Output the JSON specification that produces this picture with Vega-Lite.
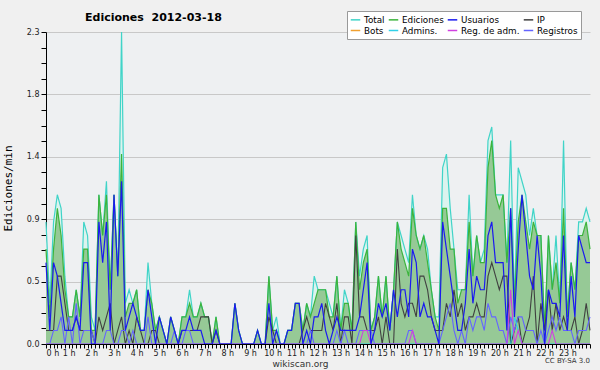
{
"$schema": "https://vega.github.io/schema/vega-lite/v6.json",
"width": 544, "height": 312,
"autosize": "none",
"padding": {"left": 46, "top": 32, "right": 10, "bottom": 26},
"background": "#f0f0f0",
"config": {"view": {"fill": "#eef0f2", "stroke": null}, "font": "DejaVu Sans"},
"title": {"text": "Ediciones\u00a0 2012-03-18", "anchor": "start", "frame": "group", "dx": 39, "dy": 22, "offset": 10, "fontSize": 11, "fontWeight": "bold", "font": "DejaVu Sans", "color": "#000000"},
"data": {"values": [
{"t":0,"T":0.9,"E":0.7,"U":0.6,"IP":0.1,"R":0,"A":0,"M":0},
{"t":10,"T":0.3,"E":0.2,"U":0.1,"IP":0.1,"R":0,"A":0,"M":0},
{"t":20,"T":0.9,"E":0.7,"U":0.6,"IP":0.1,"R":0.1,"A":0,"M":0},
{"t":30,"T":1.1,"E":1.0,"U":0.5,"IP":0.5,"R":0.1,"A":0,"M":0},
{"t":40,"T":1.0,"E":0.8,"U":0.3,"IP":0.5,"R":0.2,"A":0,"M":0},
{"t":50,"T":0.5,"E":0.4,"U":0.1,"IP":0.3,"R":0,"A":0,"M":0},
{"t":60,"T":0.2,"E":0.2,"U":0.1,"IP":0.1,"R":0.2,"A":0,"M":0},
{"t":70,"T":0.2,"E":0.2,"U":0.1,"IP":0.1,"R":0,"A":0,"M":0},
{"t":80,"T":0.4,"E":0.4,"U":0.2,"IP":0.2,"R":0.3,"A":0,"M":0},
{"t":90,"T":0.2,"E":0.2,"U":0.1,"IP":0.1,"R":0,"A":0,"M":0},
{"t":100,"T":0.9,"E":0.7,"U":0.6,"IP":0.1,"R":0.1,"A":0,"M":0},
{"t":110,"T":0.8,"E":0.7,"U":0.6,"IP":0.1,"R":0.1,"A":0,"M":0},
{"t":120,"T":0.2,"E":0.1,"U":0,"IP":0.1,"R":0.1,"A":0,"M":0},
{"t":130,"T":0.1,"E":0.1,"U":0,"IP":0,"R":0,"A":0,"M":0},
{"t":140,"T":1.1,"E":1.1,"U":0.9,"IP":0.2,"R":0,"A":0,"M":0},
{"t":150,"T":0.8,"E":0.8,"U":0.6,"IP":0.1,"R":0,"A":0,"M":0},
{"t":160,"T":1.2,"E":1.1,"U":0.9,"IP":0.2,"R":0.1,"A":0,"M":0},
{"t":170,"T":0.4,"E":0.4,"U":0.1,"IP":0.3,"R":0.1,"A":0,"M":0},
{"t":180,"T":1.1,"E":1.1,"U":1.1,"IP":0,"R":0,"A":0,"M":0},
{"t":190,"T":0.5,"E":0.5,"U":0.5,"IP":0.1,"R":0,"A":0,"M":0},
{"t":200,"T":2.3,"E":1.4,"U":1.2,"IP":0.2,"R":0.1,"A":0,"M":0},
{"t":210,"T":0.3,"E":0.2,"U":0.1,"IP":0,"R":0.1,"A":0,"M":0},
{"t":220,"T":0.4,"E":0.3,"U":0.2,"IP":0.1,"R":0,"A":0,"M":0},
{"t":230,"T":0.3,"E":0.3,"U":0.3,"IP":0,"R":0.1,"A":0,"M":0},
{"t":240,"T":0.4,"E":0.4,"U":0.2,"IP":0.2,"R":0,"A":0,"M":0},
{"t":250,"T":0.1,"E":0.1,"U":0.1,"IP":0.1,"R":0,"A":0,"M":0},
{"t":260,"T":0.1,"E":0.1,"U":0.1,"IP":0,"R":0,"A":0,"M":0},
{"t":270,"T":0.6,"E":0.4,"U":0.4,"IP":0,"R":0.2,"A":0,"M":0},
{"t":280,"T":0.3,"E":0.3,"U":0.2,"IP":0.1,"R":0,"A":0,"M":0},
{"t":290,"T":0.1,"E":0.1,"U":0,"IP":0.1,"R":0,"A":0,"M":0},
{"t":300,"T":0.2,"E":0.2,"U":0.2,"IP":0,"R":0,"A":0,"M":0},
{"t":310,"T":0.1,"E":0.1,"U":0.1,"IP":0,"R":0,"A":0,"M":0},
{"t":320,"T":0,"E":0,"U":0,"IP":0,"R":0,"A":0,"M":0},
{"t":330,"T":0.2,"E":0.2,"U":0.2,"IP":0,"R":0,"A":0,"M":0},
{"t":340,"T":0.1,"E":0.1,"U":0.1,"IP":0,"R":0.1,"A":0,"M":0},
{"t":350,"T":0,"E":0,"U":0,"IP":0,"R":0,"A":0,"M":0},
{"t":360,"T":0.2,"E":0.2,"U":0.1,"IP":0.1,"R":0,"A":0,"M":0},
{"t":370,"T":0.2,"E":0.2,"U":0.1,"IP":0.1,"R":0.1,"A":0,"M":0},
{"t":380,"T":0.4,"E":0.3,"U":0.2,"IP":0.1,"R":0.1,"A":0,"M":0},
{"t":390,"T":0.2,"E":0.2,"U":0.1,"IP":0.1,"R":0,"A":0,"M":0},
{"t":400,"T":0.2,"E":0.2,"U":0.1,"IP":0.1,"R":0,"A":0,"M":0},
{"t":410,"T":0.3,"E":0.3,"U":0.1,"IP":0.2,"R":0,"A":0,"M":0},
{"t":420,"T":0.2,"E":0.2,"U":0,"IP":0.2,"R":0,"A":0,"M":0},
{"t":430,"T":0.2,"E":0.2,"U":0,"IP":0.2,"R":0,"A":0,"M":0},
{"t":440,"T":0,"E":0,"U":0,"IP":0,"R":0,"A":0,"M":0},
{"t":450,"T":0.2,"E":0.2,"U":0.1,"IP":0.1,"R":0,"A":0,"M":0},
{"t":460,"T":0,"E":0,"U":0,"IP":0,"R":0,"A":0,"M":0},
{"t":470,"T":0,"E":0,"U":0,"IP":0,"R":0,"A":0,"M":0},
{"t":480,"T":0,"E":0,"U":0,"IP":0,"R":0,"A":0,"M":0},
{"t":490,"T":0,"E":0,"U":0,"IP":0,"R":0,"A":0,"M":0},
{"t":500,"T":0.3,"E":0.3,"U":0.3,"IP":0,"R":0,"A":0,"M":0},
{"t":510,"T":0.1,"E":0.1,"U":0.1,"IP":0,"R":0,"A":0,"M":0},
{"t":520,"T":0,"E":0,"U":0,"IP":0,"R":0,"A":0,"M":0},
{"t":530,"T":0,"E":0,"U":0,"IP":0,"R":0,"A":0,"M":0},
{"t":540,"T":0,"E":0,"U":0,"IP":0,"R":0,"A":0,"M":0},
{"t":550,"T":0,"E":0,"U":0,"IP":0,"R":0,"A":0,"M":0},
{"t":560,"T":0.1,"E":0.1,"U":0.1,"IP":0,"R":0,"A":0,"M":0},
{"t":570,"T":0,"E":0,"U":0,"IP":0,"R":0,"A":0,"M":0},
{"t":580,"T":0,"E":0,"U":0,"IP":0,"R":0,"A":0,"M":0},
{"t":590,"T":0.5,"E":0.5,"U":0.3,"IP":0.2,"R":0,"A":0,"M":0},
{"t":600,"T":0.1,"E":0.1,"U":0,"IP":0.1,"R":0,"A":0,"M":0},
{"t":610,"T":0.2,"E":0.1,"U":0.1,"IP":0,"R":0,"A":0,"M":0},
{"t":620,"T":0,"E":0,"U":0,"IP":0,"R":0,"A":0,"M":0},
{"t":630,"T":0,"E":0,"U":0,"IP":0,"R":0,"A":0,"M":0},
{"t":640,"T":0.1,"E":0.1,"U":0.1,"IP":0,"R":0,"A":0,"M":0},
{"t":650,"T":0.1,"E":0.1,"U":0.1,"IP":0,"R":0,"A":0,"M":0},
{"t":660,"T":0.3,"E":0.3,"U":0.3,"IP":0,"R":0,"A":0,"M":0},
{"t":670,"T":0.3,"E":0.3,"U":0.3,"IP":0,"R":0,"A":0,"M":0},
{"t":680,"T":0.1,"E":0.1,"U":0,"IP":0.1,"R":0,"A":0,"M":0},
{"t":690,"T":0.3,"E":0.3,"U":0.1,"IP":0.2,"R":0,"A":0,"M":0},
{"t":700,"T":0.2,"E":0.2,"U":0,"IP":0.1,"R":0.1,"A":0,"M":0},
{"t":710,"T":0.5,"E":0.3,"U":0.2,"IP":0.1,"R":0,"A":0,"M":0},
{"t":720,"T":0.4,"E":0.4,"U":0.2,"IP":0.1,"R":0,"A":0,"M":0},
{"t":730,"T":0.4,"E":0.4,"U":0.3,"IP":0.1,"R":0,"A":0,"M":0},
{"t":740,"T":0.4,"E":0.4,"U":0.1,"IP":0.3,"R":0,"A":0,"M":0},
{"t":750,"T":0.3,"E":0.2,"U":0,"IP":0.2,"R":0,"A":0,"M":0},
{"t":760,"T":0.2,"E":0.2,"U":0.1,"IP":0.1,"R":0,"A":0,"M":0},
{"t":770,"T":0.5,"E":0.5,"U":0.2,"IP":0.3,"R":0.1,"A":0,"M":0},
{"t":780,"T":0.1,"E":0.1,"U":0.1,"IP":0,"R":0,"A":0,"M":0},
{"t":790,"T":0.4,"E":0.3,"U":0.1,"IP":0.2,"R":0.1,"A":0,"M":0},
{"t":800,"T":0.3,"E":0.3,"U":0.1,"IP":0.2,"R":0,"A":0,"M":0},
{"t":810,"T":0.1,"E":0.1,"U":0.1,"IP":0,"R":0,"A":0,"M":0},
{"t":820,"T":0.9,"E":0.9,"U":0.1,"IP":0.8,"R":0,"A":0,"M":0},
{"t":830,"T":0.5,"E":0.4,"U":0.2,"IP":0.2,"R":0.1,"A":0,"M":0},
{"t":840,"T":0.7,"E":0.6,"U":0.4,"IP":0.2,"R":0.1,"A":0,"M":0.1},
{"t":850,"T":0.8,"E":0.7,"U":0.6,"IP":0.1,"R":0.1,"A":0,"M":0.1},
{"t":860,"T":0.1,"E":0.1,"U":0,"IP":0.1,"R":0.1,"A":0,"M":0},
{"t":870,"T":0.2,"E":0.2,"U":0.1,"IP":0.1,"R":0,"A":0,"M":0},
{"t":880,"T":0.5,"E":0.5,"U":0.3,"IP":0.2,"R":0,"A":0,"M":0},
{"t":890,"T":0.2,"E":0.2,"U":0.2,"IP":0,"R":0,"A":0,"M":0},
{"t":900,"T":0.5,"E":0.5,"U":0.3,"IP":0.2,"R":0,"A":0,"M":0},
{"t":910,"T":0.1,"E":0.1,"U":0.1,"IP":0,"R":0,"A":0,"M":0},
{"t":920,"T":0.4,"E":0.4,"U":0.4,"IP":0,"R":0,"A":0,"M":0},
{"t":930,"T":0.9,"E":0.9,"U":0.2,"IP":0.7,"R":0,"A":0,"M":0},
{"t":940,"T":0.8,"E":0.7,"U":0.4,"IP":0.3,"R":0,"A":0,"M":0},
{"t":950,"T":0.7,"E":0.6,"U":0.4,"IP":0.2,"R":0,"A":0,"M":0},
{"t":960,"T":0.6,"E":0.5,"U":0.2,"IP":0.3,"R":0.1,"A":0,"M":0},
{"t":970,"T":1.1,"E":1.0,"U":0.7,"IP":0.3,"R":0.1,"A":0,"M":0.1},
{"t":980,"T":0.8,"E":0.8,"U":0.6,"IP":0.2,"R":0,"A":0,"M":0},
{"t":990,"T":0.7,"E":0.7,"U":0.2,"IP":0.5,"R":0,"A":0,"M":0},
{"t":1000,"T":0.8,"E":0.8,"U":0.3,"IP":0.5,"R":0,"A":0,"M":0},
{"t":1010,"T":0.7,"E":0.6,"U":0.2,"IP":0.4,"R":0,"A":0,"M":0},
{"t":1020,"T":0.4,"E":0.4,"U":0.2,"IP":0.2,"R":0,"A":0,"M":0},
{"t":1030,"T":0.2,"E":0.2,"U":0.1,"IP":0.1,"R":0,"A":0,"M":0},
{"t":1040,"T":0.2,"E":0.1,"U":0,"IP":0.1,"R":0,"A":0,"M":0},
{"t":1050,"T":1.3,"E":1.0,"U":0.9,"IP":0.1,"R":0.1,"A":0,"M":0},
{"t":1060,"T":1.4,"E":1.0,"U":0.7,"IP":0.3,"R":0.2,"A":0,"M":0},
{"t":1070,"T":1.0,"E":0.7,"U":0.5,"IP":0.2,"R":0.3,"A":0,"M":0},
{"t":1080,"T":0.7,"E":0.7,"U":0.3,"IP":0.4,"R":0.1,"A":0,"M":0},
{"t":1090,"T":0.4,"E":0.3,"U":0.1,"IP":0.2,"R":0,"A":0,"M":0},
{"t":1100,"T":0.4,"E":0.4,"U":0.1,"IP":0.3,"R":0.1,"A":0,"M":0},
{"t":1110,"T":0.4,"E":0.4,"U":0.3,"IP":0.1,"R":0,"A":0,"M":0},
{"t":1120,"T":1.1,"E":0.9,"U":0.7,"IP":0.2,"R":0.2,"A":0,"M":0},
{"t":1130,"T":0.5,"E":0.5,"U":0.3,"IP":0.2,"R":0.1,"A":0,"M":0},
{"t":1140,"T":0.8,"E":0.8,"U":0.5,"IP":0.3,"R":0.2,"A":0,"M":0},
{"t":1150,"T":0.6,"E":0.6,"U":0.4,"IP":0.2,"R":0.2,"A":0,"M":0},
{"t":1160,"T":0.7,"E":0.6,"U":0.4,"IP":0.2,"R":0.1,"A":0,"M":0},
{"t":1170,"T":1.5,"E":1.3,"U":0.8,"IP":0.5,"R":0.3,"A":0,"M":0},
{"t":1180,"T":1.6,"E":1.5,"U":0.9,"IP":0.6,"R":0.2,"A":0,"M":0},
{"t":1190,"T":1.1,"E":1.1,"U":0.6,"IP":0.5,"R":0.2,"A":0,"M":0},
{"t":1200,"T":1.1,"E":1.0,"U":0.6,"IP":0.4,"R":0.1,"A":0,"M":0},
{"t":1210,"T":1.1,"E":1.1,"U":0.6,"IP":0.5,"R":0.1,"A":0,"M":0},
{"t":1220,"T":0.6,"E":0.6,"U":0.1,"IP":0.5,"R":0,"A":0,"M":0},
{"t":1230,"T":1.5,"E":1.0,"U":1.0,"IP":0,"R":0.2,"A":0,"M":0.4},
{"t":1240,"T":0.3,"E":0.3,"U":0.2,"IP":0.1,"R":0.1,"A":0.2,"M":0},
{"t":1250,"T":1.3,"E":0.9,"U":0.7,"IP":0.2,"R":0.2,"A":0.1,"M":0.1},
{"t":1260,"T":1.2,"E":1.1,"U":1.1,"IP":0,"R":0.2,"A":0,"M":0},
{"t":1270,"T":1.1,"E":0.9,"U":0.8,"IP":0.1,"R":0.1,"A":0,"M":0},
{"t":1280,"T":0.8,"E":0.7,"U":0.5,"IP":0.2,"R":0.1,"A":0,"M":0},
{"t":1290,"T":1.0,"E":0.9,"U":0.4,"IP":0.5,"R":0.1,"A":0,"M":0},
{"t":1300,"T":0.8,"E":0.8,"U":0.8,"IP":0,"R":0,"A":0,"M":0},
{"t":1310,"T":0.8,"E":0.8,"U":0.5,"IP":0.3,"R":0.1,"A":0,"M":0},
{"t":1320,"T":0.1,"E":0.1,"U":0,"IP":0.1,"R":0,"A":0,"M":0},
{"t":1330,"T":0.8,"E":0.8,"U":0.4,"IP":0.4,"R":0.1,"A":0,"M":0},
{"t":1340,"T":0.4,"E":0.4,"U":0.3,"IP":0.1,"R":0.2,"A":0,"M":0.1},
{"t":1350,"T":0.8,"E":0.6,"U":0.3,"IP":0.3,"R":0.1,"A":0,"M":0},
{"t":1360,"T":0.3,"E":0.3,"U":0.2,"IP":0.1,"R":0.2,"A":0,"M":0},
{"t":1370,"T":1.5,"E":1.0,"U":0.8,"IP":0.2,"R":0.1,"A":0,"M":0},
{"t":1380,"T":0.2,"E":0.2,"U":0.1,"IP":0.1,"R":0.1,"A":0,"M":0},
{"t":1390,"T":0.6,"E":0.6,"U":0.5,"IP":0.1,"R":0.1,"A":0,"M":0},
{"t":1400,"T":0.4,"E":0.4,"U":0.2,"IP":0.2,"R":0,"A":0,"M":0},
{"t":1410,"T":0.9,"E":0.8,"U":0.8,"IP":0,"R":0.1,"A":0,"M":0},
{"t":1420,"T":0.9,"E":0.8,"U":0.7,"IP":0.1,"R":0.1,"A":0,"M":0},
{"t":1430,"T":1.0,"E":0.9,"U":0.6,"IP":0.3,"R":0.1,"A":0,"M":0},
{"t":1440,"T":0.9,"E":0.7,"U":0.6,"IP":0.1,"R":0.2,"A":0,"M":0}
]},
"transform": [{"fold": ["T","E","U","IP","R","A","M"], "as": ["k","v"]}],
"encoding": {
  "x": {"field": "t", "type": "quantitative", "scale": {"domain": [0, 1440], "nice": false, "zero": false},
    "axis": {"values": [0,10,20,30,40,50,60,70,80,90,100,110,120,130,140,150,160,170,180,190,200,210,220,230,240,250,260,270,280,290,300,310,320,330,340,350,360,370,380,390,400,410,420,430,440,450,460,470,480,490,500,510,520,530,540,550,560,570,580,590,600,610,620,630,640,650,660,670,680,690,700,710,720,730,740,750,760,770,780,790,800,810,820,830,840,850,860,870,880,890,900,910,920,930,940,950,960,970,980,990,1000,1010,1020,1030,1040,1050,1060,1070,1080,1090,1100,1110,1120,1130,1140,1150,1160,1170,1180,1190,1200,1210,1220,1230,1240,1250,1260,1270,1280,1290,1300,1310,1320,1330,1340,1350,1360,1370,1380,1390,1400,1410,1420,1430,1440],
      "labelExpr": "datum.value % 60 == 0 && datum.value < 1440 ? (datum.value / 60) + ' h' : ''",
      "labelOverlap": false, "labelBound": false, "labelFontSize": 8, "labelPadding": 1, "labelColor": "#222222",
      "tickSize": 4, "tickColor": "#000000", "domainColor": "#000000", "grid": false,
      "title": "wikiscan.org", "titleFontSize": 9, "titleFontWeight": "normal", "titleColor": "#333333",
      "titleX": 254, "titleY": 19, "titleBaseline": "middle", "zindex": 1}},
  "y": {"field": "v", "type": "quantitative", "scale": {"domain": [0, 2.3], "nice": false},
    "axis": {"values": [0,0.115,0.23,0.345,0.46,0.575,0.69,0.805,0.92,1.035,1.15,1.265,1.38,1.495,1.61,1.725,1.84,1.955,2.07,2.185,2.3],
      "labelExpr": "abs(datum.value / 0.46 - round(datum.value / 0.46)) < 0.01 ? format(datum.value, '.1f') : ''",
      "labelOverlap": false, "labelBound": false, "labelFontSize": 8, "labelPadding": 2, "labelColor": "#222222",
      "tickSize": 5, "tickColor": "#000000", "domainColor": "#000000",
      "grid": true, "gridColor": "#c8c8c8",
      "gridOpacity": {"condition": {"test": "abs(datum.value / 0.46 - round(datum.value / 0.46)) < 0.01 && datum.value > 0", "value": 1}, "value": 0},
      "title": "Ediciones/min", "titleFont": "DejaVu Sans Mono", "titleFontSize": 11, "titleFontWeight": "normal", "titleColor": "#000000",
      "titleX": -38, "titleY": 156, "titleAngle": -90, "titleAlign": "center", "titleBaseline": "middle", "zindex": 0}}
},
"layer": [
  {"transform": [{"filter": "datum.k == 'T'"}], "mark": {"type": "area", "color": "#dcf3ee"}},
  {"transform": [{"filter": "datum.k == 'E'"}], "mark": {"type": "area", "color": "#96c996"}},
  {"transform": [{"filter": "datum.k == 'T'"}], "mark": {"type": "line", "strokeWidth": 1.2},
   "encoding": {"color": {"datum": "Total", "type": "nominal",
     "scale": {"domain": ["Total","Ediciones","Usuarios","IP","Bots","Admins.","Reg. de adm.","Registros"],
               "range": ["#40d4c8","#3cb43c","#1a1af0","#404040","#f0a030","#30d0e8","#d040e0","#6464ff"]},
     "legend": {"orient": "none", "legendX": 301, "legendY": -21, "columns": 4, "direction": "horizontal", "title": null,
       "symbolType": "stroke", "symbolSize": 90, "symbolStrokeWidth": 1.5, "labelFontSize": 8.8, "labelFont": "DejaVu Sans", "labelColor": "#000000", "labelLimit": 200,
       "columnPadding": 0, "rowPadding": 0, "padding": 3, "fillColor": "#ffffff", "strokeColor": "#999999", "labelOffset": 3}}}},
  {"transform": [{"filter": "datum.k == 'E'"}], "mark": {"type": "line", "strokeWidth": 1.2}, "encoding": {"color": {"datum": "Ediciones"}}},
  {"transform": [{"filter": "datum.k == 'IP'"}], "mark": {"type": "line", "strokeWidth": 1.1}, "encoding": {"color": {"datum": "IP"}}},
  {"transform": [{"filter": "datum.k == 'R'"}], "mark": {"type": "line", "strokeWidth": 1.1}, "encoding": {"color": {"datum": "Registros"}}},
  {"transform": [{"filter": "datum.k == 'A'"}], "mark": {"type": "line", "strokeWidth": 1.1}, "encoding": {"color": {"datum": "Admins."}}},
  {"transform": [{"filter": "datum.k == 'M'"}], "mark": {"type": "line", "strokeWidth": 1.1}, "encoding": {"color": {"datum": "Reg. de adm."}}},
  {"transform": [{"filter": "datum.k == 'U'"}], "mark": {"type": "line", "strokeWidth": 1.2}, "encoding": {"color": {"datum": "Usuarios"}}},
  {"transform": [{"filter": "datum.k == 'T' && datum.t == 0"}], "mark": {"type": "text", "text": "CC BY-SA 3.0", "align": "right", "baseline": "middle", "dy": 17, "fontSize": 7, "color": "#333333"},
   "encoding": {"x": {"datum": 1440}, "y": {"datum": 0}}}
]
}
